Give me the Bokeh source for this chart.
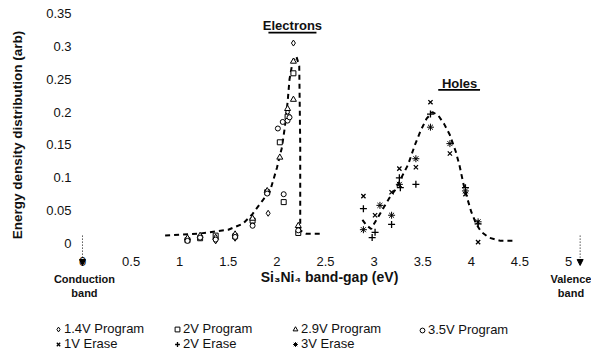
from bokeh.plotting import figure
from bokeh.layouts import column
from bokeh.models import (Range1d, FixedTicker, Legend, LegendItem, Label, Arrow,
                          NormalHead, BoxAnnotation, LinearAxis)
from bokeh.embed import file_html
from bokeh.resources import INLINE

# ---------------- data ----------------
x_ticks = [0, 0.5, 1, 1.5, 2, 2.5, 3, 3.5, 4, 4.5, 5]
x_tick_labels = ["0", "0.5", "1", "1.5", "2", "2.5", "3", "3.5", "4", "4.5", "5"]
y_ticks = [0, 0.05, 0.1, 0.15, 0.2, 0.25, 0.3, 0.35]
y_tick_labels = ["0", "0.05", "0.1", "0.15", "0.2", "0.25", "0.3", "0.35"]
band_ticks = [0.02, 5.03]
band_labels = ["Conduction\nband", "Valence\nband"]

# electron fit curve
elec_fit_x = [0.85, 1.2, 1.5, 1.65, 1.75, 1.85, 1.93, 2.0, 2.05, 2.08, 2.11, 2.13, 2.16, 2.2,
              2.23, 2.24, 2.24, 2.3, 2.45]
elec_fit_y = [0.012, 0.015, 0.021, 0.03, 0.045, 0.065, 0.08, 0.115, 0.145, 0.175, 0.215, 0.25,
              0.275, 0.285, 0.27, 0.15, 0.02, 0.015, 0.015]

# hole fit curve
hole_fit_x = [2.88, 2.92, 2.97, 3.0, 3.04, 3.1, 3.16, 3.22, 3.28, 3.35, 3.42, 3.48, 3.54, 3.6,
              3.66, 3.72, 3.78, 3.84, 3.88, 3.92, 3.96, 4.0, 4.05, 4.1, 4.18, 4.3, 4.45]
hole_fit_y = [0.036, 0.028, 0.022, 0.03, 0.04, 0.055, 0.07, 0.082, 0.1, 0.12, 0.15, 0.172, 0.19,
              0.2, 0.195, 0.182, 0.165, 0.14, 0.118, 0.09, 0.068, 0.048, 0.03, 0.018, 0.009,
              0.004, 0.004]

# program series
p14_x = [1.08, 1.21, 1.37, 1.57, 1.75, 1.91, 2.11, 2.17, 2.22]
p14_y = [0.006, 0.010, 0.004, 0.008, 0.030, 0.046, 0.200, 0.305, 0.022]
p20_x = [1.08, 1.21, 1.37, 1.57, 1.75, 1.90, 2.07, 2.03, 2.11, 2.17, 2.22]
p20_y = [0.005, 0.008, 0.012, 0.011, 0.035, 0.078, 0.063, 0.154, 0.193, 0.259, 0.016]
p29_x = [1.08, 1.21, 1.37, 1.57, 1.75, 1.90, 2.03, 2.11, 2.17, 2.17, 2.22]
p29_y = [0.008, 0.012, 0.009, 0.014, 0.038, 0.080, 0.131, 0.205, 0.219, 0.277, 0.027]
p35_x = [1.08, 1.21, 1.37, 1.57, 1.75, 1.90, 2.07, 2.01, 2.06, 2.11, 2.13, 2.22]
p35_y = [0.004, 0.009, 0.006, 0.010, 0.027, 0.076, 0.075, 0.175, 0.185, 0.187, 0.192, 0.020]

# erase series
e1_x = [2.89, 3.01, 3.18, 3.26, 3.43, 3.58, 3.78, 3.94, 4.07]
e1_y = [0.072, 0.043, 0.078, 0.114, 0.116, 0.215, 0.137, 0.075, 0.002]
e2_x = [2.89, 2.98, 3.01, 3.18, 3.26, 3.27, 3.43, 3.58, 3.94, 4.07]
e2_y = [0.053, 0.009, 0.017, 0.029, 0.100, 0.085, 0.090, 0.197, 0.085, 0.030]
e3_x = [2.89, 3.06, 3.18, 3.26, 3.43, 3.58, 3.78, 3.94, 4.07]
e3_y = [0.021, 0.058, 0.043, 0.090, 0.129, 0.177, 0.152, 0.080, 0.033]

series_labels = ["1.4V Program", "2V Program", "2.9V Program", "3.5V Program",
                 "1V Erase", "2V Erase", "3V Erase"]
series_markers = ["diamond", "square", "triangle", "circle", "x", "cross", "asterisk"]
series_x = [p14_x, p20_x, p29_x, p35_x, e1_x, e2_x, e3_x]
series_y = [p14_y, p20_y, p29_y, p35_y, e1_y, e2_y, e3_y]

# ---------------- figure ----------------
FONT = "Liberation Sans"
INK = "#111111"
p = figure(width=591, height=310, output_backend="svg", toolbar_location=None,
           x_range=Range1d(-0.3086, 5.175), y_range=Range1d(-0.035, 0.3652),
           min_border_left=52, min_border_right=6, min_border_top=3, min_border_bottom=44)
p.outline_line_color = None
p.grid.visible = False
p.background_fill_color = "white"
p.border_fill_color = "white"

def style_axis(ax):
    ax.axis_line_color = None
    ax.major_tick_line_color = None
    ax.minor_tick_line_color = None
    ax.major_tick_out = 0
    ax.major_tick_in = 0
    ax.minor_tick_out = 0
    ax.minor_tick_in = 0
    ax.major_label_text_font = FONT
    ax.major_label_text_font_size = "13px"
    ax.major_label_text_color = INK
    ax.axis_label_text_font = FONT
    ax.axis_label_text_font_style = "bold"
    ax.axis_label_text_color = INK

style_axis(p.xaxis[0])
style_axis(p.yaxis[0])

p.xaxis.ticker = FixedTicker(ticks=x_ticks)
p.xaxis.major_label_overrides = {t: s for t, s in zip(x_ticks, x_tick_labels)}
p.xaxis.major_label_standoff = -10
p.xaxis.axis_label = "\u2003\u2002Si\u2083Ni\u2084 band-gap (eV)"
p.xaxis.axis_label_text_font_size = "14px"
p.xaxis.axis_label_standoff = 0

p.yaxis.ticker = FixedTicker(ticks=y_ticks)
p.yaxis.major_label_overrides = {t: s for t, s in zip(y_ticks, y_tick_labels)}
p.yaxis.major_label_standoff = -19
p.yaxis.axis_label = "Energy density distribution (arb)"
p.yaxis.axis_label_text_font_size = "13.5px"
p.yaxis.axis_label_standoff = 18

# second bottom axis: band-edge names
band_axis = LinearAxis(ticker=FixedTicker(ticks=band_ticks))
style_axis(band_axis)
band_axis.major_label_overrides = {t: s for t, s in zip(band_ticks, band_labels)}
band_axis.major_label_text_font_style = "bold"
band_axis.major_label_text_font_size = "11px"
band_axis.major_label_standoff = -15
p.add_layout(band_axis, "below")

# fit curves
p.line(elec_fit_x, elec_fit_y, line_color="black", line_width=2, line_dash="5 4")
p.line(hole_fit_x, hole_fit_y, line_color="black", line_width=2, line_dash="5 4")

def marker_style(m):
    if m in ("x", "cross"):
        return dict(line_color="black", line_width=1.3, size=6 if m == "x" else 7)
    if m == "asterisk":
        return dict(line_color="black", line_width=1, size=7)
    return dict(line_color="black", line_width=1, fill_color="white",
                size=5 if m in ("square", "circle") else 6)

for xs, ys, m in zip(series_x, series_y, series_markers):
    p.scatter(xs, ys, marker=m, **marker_style(m))

# annotations
def lab(x, y, text, size):
    p.add_layout(Label(x=x, y=y, text=text, text_align="center", text_baseline="middle",
                       text_font=FONT, text_font_size=size, text_font_style="bold",
                       text_color=INK))

lab(2.16, 0.332, "Electrons", "13px")
lab(3.88, 0.2435, "Holes", "13px")
p.add_layout(BoxAnnotation(left=1.913, right=2.407, bottom=0.3195, top=0.3222,
                           fill_color="black", fill_alpha=1, line_color=None))
p.add_layout(BoxAnnotation(left=3.66, right=4.09, bottom=0.2325, top=0.2352,
                           fill_color="black", fill_alpha=1, line_color=None))

for ax_x in (0.0, 5.12):
    p.add_layout(Arrow(x_start=ax_x, y_start=0.012, x_end=ax_x, y_end=-0.0335,
                       line_color="black", line_width=1, line_dash="1 2",
                       end=NormalHead(size=6, fill_color="black", line_color="black")))

# ---------------- legend strip ----------------
# the series are re-drawn here only as legend sources; this strip's ranges keep them off-frame
lf = figure(width=591, height=53, output_backend="svg", toolbar_location=None,
            x_axis_location=None, y_axis_location=None,
            x_range=Range1d(-2, -1), y_range=Range1d(5, 6),
            min_border=0, min_border_left=0, min_border_right=0,
            min_border_top=0, min_border_bottom=0)
lf.grid.visible = False
lf.outline_line_color = None
lf.border_fill_color = "white"
lf.background_fill_color = "white"

legend_renderers = [lf.scatter(xs, ys, marker=m, **marker_style(m))
                    for xs, ys, m in zip(series_x, series_y, series_markers)]

legend_columns = [[0, 4], [1, 5], [2, 6], [3]]
legend_lefts = [0, 119, 237, 364]
for idxs, lx in zip(legend_columns, legend_lefts):
    items = [LegendItem(label=series_labels[i], renderers=[legend_renderers[i]]) for i in idxs]
    lg = Legend(items=items, location=(lx, 12 + 14 * (2 - len(idxs))),
                orientation="vertical",
                border_line_color=None, background_fill_alpha=0,
                padding=0, margin=0, spacing=0, glyph_width=12, glyph_height=14,
                label_height=14, label_standoff=0, label_text_font=FONT,
                label_text_font_size="13px", label_text_color=INK)
    lf.add_layout(lg)

layout = column(p, lf, spacing=0)
open("out.html", "w").write(file_html(layout, INLINE))
